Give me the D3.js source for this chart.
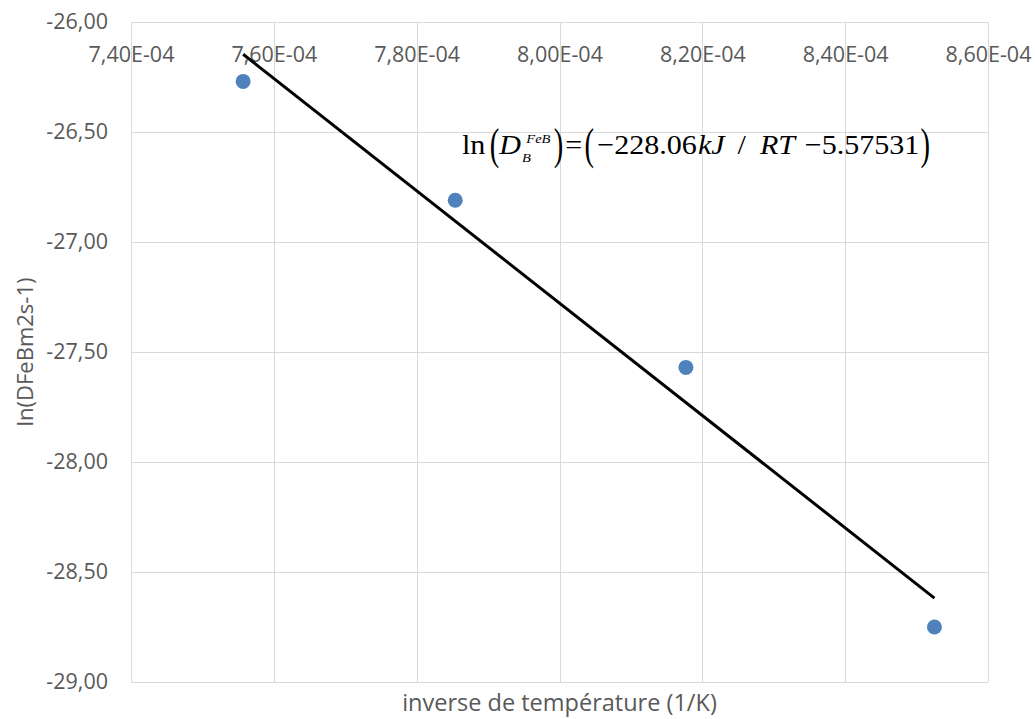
<!DOCTYPE html>
<html>
<head>
<meta charset="utf-8">
<script src="https://cdn.jsdelivr.net/npm/d3@7"></script>
<style>
  html, body { margin: 0; padding: 0; background: #fff; }
  svg { display: block; }
</style>
</head>
<body>
<svg id="chart" width="1035" height="719"></svg>
<script>
// Inverse temperature (1/K) and measured ln(D) of boron in FeB
const invTemperature = [7.557e-4, 7.854e-4, 8.177e-4, 8.525e-4];
const lnDiffusion = [-26.27, -26.81, -27.57, -28.75];

const xTicks = [7.4e-4, 7.6e-4, 7.8e-4, 8.0e-4, 8.2e-4, 8.4e-4, 8.6e-4];
const yTicks = [-26, -26.5, -27, -27.5, -28, -28.5, -29];

const xTitle = "inverse de température (1/K)";
const yTitle = "ln(DFeBm2s-1)";

const W = 1035, H = 719;
const plot = { left: 131, top: 22, right: 988, bottom: 682 };

const svg = d3.select("#chart");
const textColor = "#595959";
const gridColor = "#d9d9d9";
const uiFont = "'Open Sans', 'DejaVu Sans', sans-serif";

const x = d3.scaleLinear().domain([7.4e-4, 8.6e-4]).range([plot.left, plot.right]);
const y = d3.scaleLinear().domain([-29, -26]).range([plot.bottom, plot.top]);

// French-style scientific labels, e.g. 7,40E-04
function sciLabel(v) {
  const [m, e] = v.toExponential(2).split("e");
  const ex = +e;
  return m.replace(".", ",") + "E" + (ex < 0 ? "-" : "+") + String(Math.abs(ex)).padStart(2, "0");
}
const decLabel = v => v.toFixed(2).replace(".", ",");

// Gridlines
const grid = svg.append("g");
grid.selectAll("line.h").data(yTicks).join("line")
  .attr("x1", plot.left).attr("x2", plot.right)
  .attr("y1", d => Math.round(y(d)) + 0.5).attr("y2", d => Math.round(y(d)) + 0.5)
  .attr("stroke", gridColor).attr("stroke-width", 1);
grid.selectAll("line.v").data(xTicks).join("line")
  .attr("y1", plot.top).attr("y2", plot.bottom)
  .attr("x1", d => Math.round(x(d)) + 0.5).attr("x2", d => Math.round(x(d)) + 0.5)
  .attr("stroke", gridColor).attr("stroke-width", 1);

// Y axis labels
const yAxis = d3.axisLeft(y).tickValues(yTicks).tickFormat(decLabel).tickSize(0).tickPadding(23);
const gy = svg.append("g").attr("transform", `translate(${plot.left},0)`).call(yAxis);
gy.select(".domain").remove();
gy.selectAll("text").attr("fill", textColor).attr("font-family", uiFont).attr("font-size", 21.5);

// X axis labels placed just below the top edge
const xAxis = d3.axisBottom(x).tickValues(xTicks).tickFormat(sciLabel).tickSize(0).tickPadding(25);
const gx = svg.append("g").attr("transform", `translate(0,${plot.top})`).call(xAxis);
gx.select(".domain").remove();
gx.selectAll("text").attr("fill", textColor).attr("font-family", uiFont).attr("font-size", 21.5);

// Least-squares trendline over the measured points
const n = invTemperature.length;
const mx = d3.mean(invTemperature), my = d3.mean(lnDiffusion);
let sxy = 0, sxx = 0;
for (let i = 0; i < n; i++) {
  sxy += (invTemperature[i] - mx) * (lnDiffusion[i] - my);
  sxx += (invTemperature[i] - mx) ** 2;
}
const slope = sxy / sxx, intercept = my - slope * mx;
const xr = d3.extent(invTemperature);
const fit = xr.map(v => [v, intercept + slope * v]);

// Data points
svg.append("g").selectAll("circle")
  .data(invTemperature.map((v, i) => [v, lnDiffusion[i]]))
  .join("circle")
  .attr("cx", d => x(d[0])).attr("cy", d => y(d[1]))
  .attr("r", 7.5)
  .attr("fill", "#4f81bd");

svg.append("path")
  .datum(fit)
  .attr("d", d3.line().x(d => x(d[0])).y(d => y(d[1])))
  .attr("stroke", "#000").attr("stroke-width", 3).attr("fill", "none");

// Arrhenius equation annotation, laid out piece by piece then fitted to its box
const eqFont = "'Liberation Serif', 'Times New Roman', serif";
const eqBox = { left: 462, right: 930, baseline: 154 };
const eq = svg.append("g").attr("font-family", eqFont).attr("fill", "#000");
const pieces = [
  { t: "ln", gap: 0 },
  { t: "(", gap: 4, paren: true },
  { t: "D", gap: 0, italic: true },
  { t: "FeB", gap: 5, dy: -11, size: 13.5, italic: true, superscript: true },
  { t: "B", gap: -4, dy: 8, size: 13.5, italic: true, subscript: true },
  { t: ")", gap: 3, paren: true },
  { t: "=", gap: 2 },
  { t: "(", gap: 2, paren: true },
  { t: "\u2212228.06", gap: 3 },
  { t: "kJ", gap: 1, italic: true },
  { t: "/", gap: 12 },
  { t: "RT", gap: 13, italic: true },
  { t: "\u22125.57531", gap: 9 },
  { t: ")", gap: 1, paren: true }
];
let cursor = 0, supStart = 0, supEnd = 0;
pieces.forEach(p => {
  const t = eq.append("text").text(p.t);
  const px = (p.subscript ? supStart : cursor) + p.gap;
  if (p.paren) {
    // stretched parentheses
    t.attr("font-size", 28).attr("transform", `translate(${px},5) scale(0.95,1.55)`);
    cursor = px + t.node().getComputedTextLength() * 0.95;
  } else {
    t.attr("x", px).attr("y", p.dy || 0)
      .attr("font-size", p.size || 28)
      .attr("font-style", p.italic ? "italic" : "normal");
    const w = t.node().getComputedTextLength();
    if (p.superscript) { supStart = px; supEnd = px + w; cursor = supEnd; }
    else if (p.subscript) { cursor = Math.max(supEnd, px + w); }
    else cursor = px + w;
  }
});
const stretch = (eqBox.right - eqBox.left) / cursor;
eq.attr("transform", `translate(${eqBox.left},${eqBox.baseline}) scale(${stretch},1)`);

// Axis titles
svg.append("text")
  .attr("x", (plot.left + plot.right) / 2).attr("y", 711)
  .attr("text-anchor", "middle")
  .attr("font-family", uiFont).attr("font-size", 23.5).attr("fill", textColor)
  .text(xTitle);
svg.append("text")
  .attr("transform", `translate(33,${(plot.top + plot.bottom) / 2}) rotate(-90)`)
  .attr("text-anchor", "middle")
  .attr("font-family", uiFont).attr("font-size", 22).attr("fill", textColor)
  .text(yTitle);
</script>
</body>
</html>
